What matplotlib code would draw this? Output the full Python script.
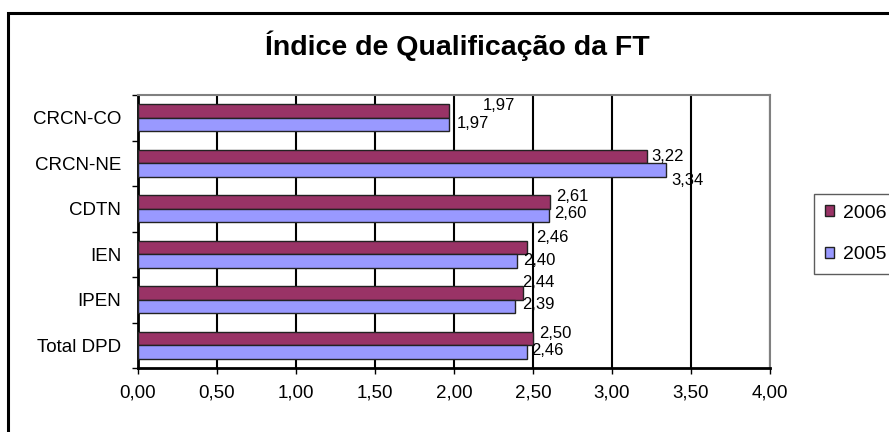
import matplotlib
matplotlib.use("Agg")
import matplotlib.pyplot as plt
from matplotlib.patches import Rectangle
import numpy as np

plt.rcParams['font.family'] = ['Liberation Sans', 'DejaVu Sans']

title = "Índice de Qualificação da FT"
categories = ["CRCN-CO", "CRCN-NE", "CDTN", "IEN", "IPEN", "Total DPD"]
series_names = ["2006", "2005"]
values_2006 = [1.97, 3.22, 2.61, 2.46, 2.44, 2.50]
values_2005 = [1.97, 3.34, 2.60, 2.40, 2.39, 2.46]
x_ticks = [0.0, 0.5, 1.0, 1.5, 2.0, 2.5, 3.0, 3.5, 4.0]

color_2006 = "#993366"
color_2005 = "#9999FF"

# label offsets in pixels (dx right, dy down) mimicking the original placement
offs_2006 = [(34, -5), (5, 0), (6, -5), (10, -10), (-1, -10), (6, -5)]
offs_2005 = [(8, -1), (6, 10), (5, -2), (6, -1), (7, -2), (5, -2)]

W, H = 889, 432
fig = plt.figure(figsize=(W / 100, H / 100), dpi=100)
fig.patch.set_facecolor("white")

L, R, T, B = 137.7, 770, 95, 368
ax = fig.add_axes([L / W, 1 - B / H, (R - L) / W, (B - T) / H])

y = np.arange(len(categories))
bh = 0.3
ax.barh(y - bh / 2, values_2006, height=bh, color=color_2006,
        edgecolor="#222222", linewidth=1, label=series_names[0], zorder=3)
ax.barh(y + bh / 2, values_2005, height=bh, color=color_2005,
        edgecolor="#222222", linewidth=1, label=series_names[1], zorder=3)

def fmt(v):
    return f"{v:.2f}".replace(".", ",")

for i in range(len(categories)):
    dx, dy = offs_2006[i]
    ax.annotate(fmt(values_2006[i]), (values_2006[i], y[i] - bh / 2),
                xytext=(dx, -dy), textcoords="offset pixels",
                ha="left", va="center", fontsize=12, zorder=5)
    dx, dy = offs_2005[i]
    ax.annotate(fmt(values_2005[i]), (values_2005[i], y[i] + bh / 2),
                xytext=(dx, -dy), textcoords="offset pixels",
                ha="left", va="center", fontsize=12, zorder=5)

ax.set_xlim(0, 4)
ax.set_ylim(len(categories) - 0.5, -0.5)
ax.set_xticks(x_ticks)
ax.set_xticklabels([fmt(v) for v in x_ticks], fontsize=13.5)
ax.set_yticks(y)
ax.set_yticklabels(categories, fontsize=13.5)
ax.set_yticks(np.arange(-0.5, len(categories), 1.0), minor=True)
ax.tick_params(axis="y", which="major", length=0, pad=12)
ax.tick_params(axis="y", which="minor", length=4, width=1, direction="out")
ax.tick_params(axis="x", which="major", length=4, width=1, direction="out", pad=8)

ax.grid(axis="x", color="black", linewidth=1.5, zorder=0)
ax.set_axisbelow(True)
for s in ["left", "bottom"]:
    ax.spines[s].set_color("black")
    ax.spines[s].set_linewidth(2)
for s in ["top", "right"]:
    ax.spines[s].set_color("#808080")
    ax.spines[s].set_linewidth(1.5)

fig.text(457 / W, 1 - 46 / H, title, ha="center", va="center",
         fontsize=20.5, fontweight="bold")

leg = ax.legend(loc="upper left", bbox_to_anchor=(814 / W, 1 - 194 / H),
                bbox_transform=fig.transFigure, borderaxespad=0,
                fontsize=14, frameon=True, fancybox=False,
                handlelength=0.5, handleheight=0.5, handletextpad=0.45,
                labelspacing=1.25, borderpad=0.55)
leg.get_frame().set_edgecolor("#333333")
leg.get_frame().set_linewidth(1)

# outer chart frame (partly cut off at right and bottom)
fig.add_artist(Rectangle((7.5 / W, -0.1), 1.2, 1 - 12.5 / H + 0.1,
                         transform=fig.transFigure, fill=False,
                         edgecolor="black", linewidth=2.2))

fig.savefig("out.png", dpi=100)
